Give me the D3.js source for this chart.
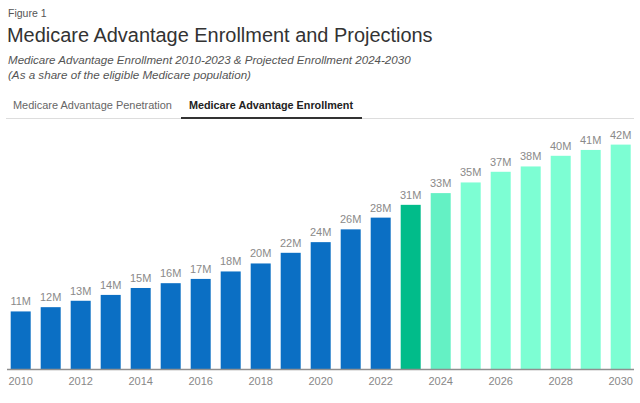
<!DOCTYPE html>
<html>
<head>
<meta charset="utf-8">
<script src="https://cdn.jsdelivr.net/npm/d3@7"></script>
<style>
  html, body { margin: 0; padding: 0; background: #fff; }
  svg { display: block; font-family: "Liberation Sans", Arial, sans-serif; }
</style>
</head>
<body>
<svg id="chart" width="640" height="403"></svg>
<script>
const years = [2010,2011,2012,2013,2014,2015,2016,2017,2018,2019,2020,2021,2022,2023,2024,2025,2026,2027,2028,2029,2030];
const enrollment = [10.8,11.6,12.8,13.9,15.2,16.1,16.9,18.3,19.8,21.8,23.8,26.2,28.4,30.8,33.0,35.0,37.0,38.0,40.0,41.1,42.1];
const kinds = ["actual","actual","actual","actual","actual","actual","actual","actual","actual","actual","actual","actual","actual","current","firstProj","proj","proj","proj","proj","proj","proj"];
const tickYears = [2010,2012,2014,2016,2018,2020,2022,2024,2026,2028,2030];
const tabs = ["Medicare Advantage Penetration", "Medicare Advantage Enrollment"];

const colors = { actual: "#0B6FC4", current: "#01BC8A", firstProj: "#64F1C4", proj: "#7DFED3" };

const svg = d3.select("#chart");

// Header
svg.append("text").attr("x", 8).attr("y", 17).attr("font-size", 10.5).attr("fill", "#555").text("Figure 1");
const title = svg.append("text").attr("x", 7).attr("y", 42).attr("font-size", 20).attr("fill", "#333")
  .text("Medicare Advantage Enrollment and Projections");
function fit(sel, w) {
  const len = sel.node().getComputedTextLength();
  const fs = +sel.attr("font-size");
  sel.attr("font-size", (fs * w / len).toFixed(2));
}
fit(title, 426);
const s1 = svg.append("text").attr("x", 8).attr("y", 64).attr("font-size", 12).attr("font-style", "italic").attr("fill", "#555")
  .text("Medicare Advantage Enrollment 2010-2023 & Projected Enrollment 2024-2030");
fit(s1, 403);
const s2 = svg.append("text").attr("x", 8).attr("y", 79).attr("font-size", 12).attr("font-style", "italic").attr("fill", "#555")
  .text("(As a share of the eligible Medicare population)");
fit(s2, 243);

// Tabs
svg.append("line").attr("x1", 6).attr("x2", 634).attr("y1", 118.5).attr("y2", 118.5).attr("stroke", "#ddd").attr("stroke-width", 1);
const t1 = svg.append("text").attr("x", 13).attr("y", 109).attr("font-size", 11).attr("fill", "#666").text(tabs[0]);
fit(t1, 159);
const t2 = svg.append("text").attr("x", 189).attr("y", 109).attr("font-size", 11).attr("font-weight", "bold").attr("fill", "#222").text(tabs[1]);
fit(t2, 164);
svg.append("line").attr("x1", 181).attr("x2", 362).attr("y1", 118).attr("y2", 118).attr("stroke", "#333").attr("stroke-width", 2);

// Scales
const x = d3.scaleBand().domain(years).range([5.7, 635.7]).paddingInner(1/3).paddingOuter(1/6);
const baseY = 369;
const y = d3.scaleLinear().domain([0, 45]).range([baseY, baseY - 45 * 5.33]);

const data = years.map((yr, i) => ({ yr, v: enrollment[i], k: kinds[i] }));

svg.append("g").selectAll("rect").data(data).join("rect")
  .attr("x", d => x(d.yr))
  .attr("width", x.bandwidth())
  .attr("y", d => y(d.v))
  .attr("height", d => y(0) - y(d.v))
  .attr("fill", d => colors[d.k]);

svg.append("g").selectAll("text").data(data).join("text")
  .attr("x", d => x(d.yr) + x.bandwidth() / 2)
  .attr("y", d => y(d.v) - 6)
  .attr("text-anchor", "middle")
  .attr("font-size", 11)
  .attr("fill", "#8a8a8a")
  .text(d => Math.round(d.v) + "M");

// Axis
const axis = d3.axisBottom(x).tickValues(tickYears).tickSize(0).tickSizeOuter(0).tickPadding(8);
const ag = svg.append("g").attr("transform", `translate(0,${baseY})`).call(axis);
ag.select(".domain").attr("stroke", "#8f8f8f").attr("stroke-width", 1.5).attr("d", "M7,0.5H634");
ag.selectAll("text").attr("font-size", 11).attr("fill", "#888").attr("font-family", "Liberation Sans, Arial, sans-serif");
</script>
</body>
</html>
